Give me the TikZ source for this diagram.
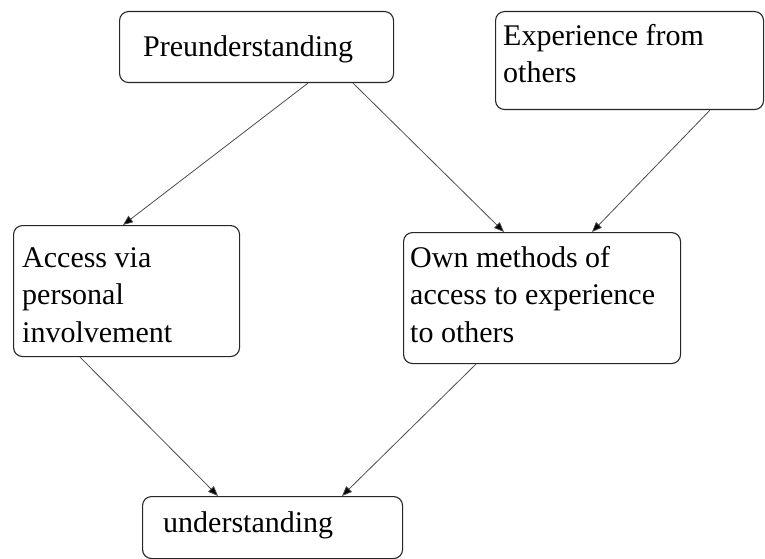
\documentclass[tikz,border=0pt]{standalone}
\usepackage{fontspec}
\setmainfont{Liberation Serif}
\usetikzlibrary{arrows.meta}
\begin{document}
\begin{tikzpicture}[x=1pt,y=-1pt,
  box/.style={draw=black!85, line width=1.1pt, rounded corners=9pt, inner sep=0pt, anchor=north west},
  lbl/.style={inner sep=0pt, anchor=base west, align=left, font=\fontsize{30}{37.5}\selectfont, text=black},
  arr/.style={draw=black!70, line width=0.8pt, -{Triangle[length=10pt,width=8pt,fill=black]}}
]
\useasboundingbox (0,0) rectangle (765,559);
% boxes
\node[box, minimum width=274pt, minimum height=71pt] (b1) at (119,11) {};
\node[box, minimum width=268pt, minimum height=98pt] (b2) at (495,11) {};
\node[box, minimum width=226pt, minimum height=131pt] (b3) at (13,225) {};
\node[box, minimum width=277pt, minimum height=131pt] (b4) at (403,232) {};
\node[box, minimum width=260pt, minimum height=62pt] (b5) at (142,496) {};
% texts (base anchor = baseline of the last line)
\node[lbl] (t1) at (143,57) {Preunderstanding};
\node[lbl] (t2) at (503,83) {Experience from\\others};
\node[lbl] (t3) at (22,342) {Access via\\personal\\involvement};
\node[lbl] (t4) at (410,342) {Own methods of\\access to experience\\to others};
\node[lbl] (t5) at (163,532) {understanding};
% connectors
\draw[arr] ([xshift=189pt]b1.south west) -- ([xshift=110pt]b3.north west);
\draw[arr] ([xshift=234pt]b1.south west) -- ([xshift=101pt]b4.north west);
\draw[arr] ([xshift=215pt]b2.south west) -- ([xshift=189pt]b4.north west);
\draw[arr] ([xshift=67pt]b3.south west) -- ([xshift=76pt]b5.north west);
\draw[arr] ([xshift=73pt]b4.south west) -- ([xshift=200pt]b5.north west);
\end{tikzpicture}
\end{document}
